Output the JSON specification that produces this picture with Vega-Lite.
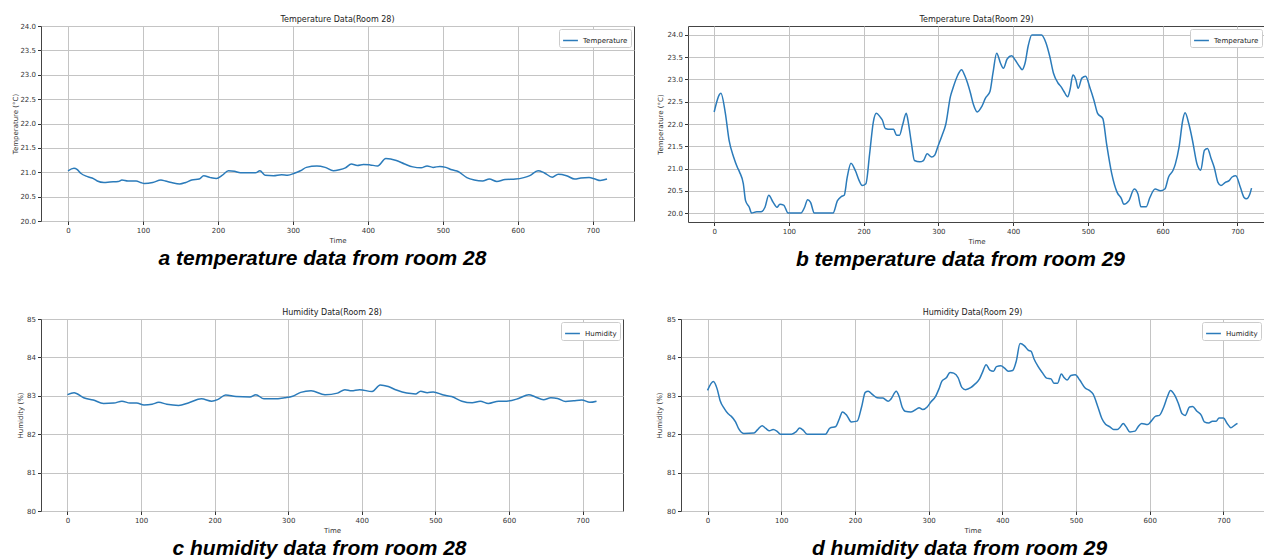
{
  "$schema": "https://vega.github.io/schema/vega-lite/v6.json",
  "padding": {"left": 10, "top": 15, "right": 0, "bottom": 0},
  "background": "white",
  "config": {
    "view": {"stroke": "#444444", "strokeWidth": 1},
    "axis": {
      "domain": false, "grid": true, "gridColor": "#c4c4c4", "gridWidth": 1,
      "tickColor": "#333333", "tickSize": 3.5, "labelPadding": 2,
      "labelFont": "DejaVu Sans", "labelFontSize": 7, "labelColor": "#333333",
      "titleFont": "DejaVu Sans", "titleFontSize": 7, "titleFontWeight": "normal", "titleColor": "#333333"
    },
    "title": {"font": "DejaVu Sans", "fontSize": 8, "fontWeight": "normal", "color": "#222222"},
    "legend": {
      "title": null, "orient": "top-right", "offset": 3, "symbolType": "stroke", "symbolStrokeWidth": 1.5,
      "symbolSize": 220, "labelFont": "DejaVu Sans", "labelFontSize": 7, "labelColor": "#222222",
      "strokeColor": "#cccccc", "fillColor": "white", "padding": 3, "cornerRadius": 2
    }
  },
  "datasets": {
    "a": [
      {"t":0,"v":21.03},{"t":8,"v":21.08},{"t":12,"v":21.06},{"t":17,"v":20.98},{"t":26,"v":20.91},{"t":34,"v":20.87},{"t":39,"v":20.82},{"t":48,"v":20.79},{"t":56,"v":20.80},{"t":67,"v":20.81},{"t":72,"v":20.84},{"t":80,"v":20.82},{"t":91,"v":20.82},{"t":97,"v":20.79},{"t":102,"v":20.77},{"t":113,"v":20.79},{"t":124,"v":20.84},{"t":130,"v":20.82},{"t":138,"v":20.79},{"t":149,"v":20.76},{"t":157,"v":20.79},{"t":165,"v":20.84},{"t":175,"v":20.86},{"t":181,"v":20.93},{"t":190,"v":20.89},{"t":198,"v":20.87},{"t":206,"v":20.94},{"t":214,"v":21.03},{"t":222,"v":21.02},{"t":230,"v":20.99},{"t":241,"v":20.99},{"t":250,"v":20.99},{"t":256,"v":21.03},{"t":263,"v":20.94},{"t":274,"v":20.93},{"t":285,"v":20.95},{"t":293,"v":20.94},{"t":302,"v":20.98},{"t":310,"v":21.03},{"t":318,"v":21.10},{"t":332,"v":21.13},{"t":343,"v":21.10},{"t":354,"v":21.03},{"t":362,"v":21.05},{"t":370,"v":21.09},{"t":378,"v":21.17},{"t":386,"v":21.14},{"t":394,"v":21.16},{"t":403,"v":21.15},{"t":413,"v":21.13},{"t":424,"v":21.28},{"t":438,"v":21.24},{"t":449,"v":21.17},{"t":460,"v":21.11},{"t":471,"v":21.09},{"t":479,"v":21.13},{"t":487,"v":21.10},{"t":496,"v":21.12},{"t":504,"v":21.10},{"t":512,"v":21.05},{"t":521,"v":21.01},{"t":532,"v":20.89},{"t":542,"v":20.84},{"t":553,"v":20.82},{"t":562,"v":20.86},{"t":572,"v":20.81},{"t":583,"v":20.85},{"t":597,"v":20.86},{"t":608,"v":20.89},{"t":616,"v":20.93},{"t":627,"v":21.03},{"t":635,"v":20.99},{"t":646,"v":20.90},{"t":654,"v":20.96},{"t":665,"v":20.93},{"t":676,"v":20.86},{"t":684,"v":20.88},{"t":695,"v":20.89},{"t":703,"v":20.86},{"t":710,"v":20.83},{"t":719,"v":20.86}
    ],
    "b": [
      {"t":0,"v":22.27},{"t":9,"v":22.69},{"t":15,"v":22.24},{"t":20,"v":21.63},{"t":26,"v":21.26},{"t":31,"v":21.03},{"t":34,"v":20.92},{"t":39,"v":20.66},{"t":42,"v":20.28},{"t":47,"v":20.13},{"t":50,"v":20.0},{"t":57,"v":20.03},{"t":63,"v":20.03},{"t":68,"v":20.13},{"t":73,"v":20.4},{"t":79,"v":20.24},{"t":84,"v":20.13},{"t":88,"v":20.2},{"t":93,"v":20.18},{"t":99,"v":20.0},{"t":116,"v":20.0},{"t":121,"v":20.13},{"t":125,"v":20.3},{"t":129,"v":20.24},{"t":134,"v":20.0},{"t":159,"v":20.0},{"t":165,"v":20.28},{"t":170,"v":20.37},{"t":174,"v":20.4},{"t":178,"v":20.8},{"t":183,"v":21.12},{"t":189,"v":20.95},{"t":194,"v":20.73},{"t":198,"v":20.62},{"t":203,"v":20.66},{"t":208,"v":21.33},{"t":213,"v":22.05},{"t":217,"v":22.24},{"t":222,"v":22.16},{"t":225,"v":22.09},{"t":229,"v":21.9},{"t":236,"v":21.88},{"t":240,"v":21.88},{"t":244,"v":21.75},{"t":248,"v":21.75},{"t":252,"v":21.97},{"t":257,"v":22.24},{"t":260,"v":22.01},{"t":264,"v":21.56},{"t":268,"v":21.18},{"t":275,"v":21.15},{"t":280,"v":21.18},{"t":285,"v":21.33},{"t":291,"v":21.26},{"t":295,"v":21.3},{"t":299,"v":21.48},{"t":305,"v":21.75},{"t":310,"v":22.0},{"t":316,"v":22.61},{"t":320,"v":22.83},{"t":326,"v":23.1},{"t":331,"v":23.22},{"t":335,"v":23.1},{"t":339,"v":22.92},{"t":343,"v":22.69},{"t":347,"v":22.43},{"t":352,"v":22.27},{"t":358,"v":22.39},{"t":363,"v":22.58},{"t":369,"v":22.73},{"t":373,"v":23.14},{"t":378,"v":23.59},{"t":383,"v":23.37},{"t":387,"v":23.25},{"t":392,"v":23.46},{"t":398,"v":23.53},{"t":403,"v":23.43},{"t":409,"v":23.28},{"t":412,"v":23.22},{"t":416,"v":23.37},{"t":420,"v":23.74},{"t":425,"v":24.0},{"t":438,"v":24.0},{"t":444,"v":23.82},{"t":449,"v":23.52},{"t":454,"v":23.14},{"t":460,"v":22.92},{"t":464,"v":22.84},{"t":468,"v":22.73},{"t":473,"v":22.61},{"t":476,"v":22.76},{"t":480,"v":23.1},{"t":484,"v":22.99},{"t":487,"v":22.8},{"t":492,"v":23.03},{"t":497,"v":23.07},{"t":503,"v":22.8},{"t":508,"v":22.54},{"t":513,"v":22.24},{"t":520,"v":22.12},{"t":525,"v":21.56},{"t":532,"v":20.88},{"t":539,"v":20.47},{"t":545,"v":20.32},{"t":548,"v":20.2},{"t":555,"v":20.28},{"t":562,"v":20.54},{"t":567,"v":20.43},{"t":571,"v":20.14},{"t":578,"v":20.14},{"t":583,"v":20.35},{"t":590,"v":20.54},{"t":597,"v":20.5},{"t":603,"v":20.54},{"t":608,"v":20.81},{"t":614,"v":20.96},{"t":617,"v":21.1},{"t":622,"v":21.48},{"t":627,"v":22.09},{"t":630,"v":22.25},{"t":635,"v":22.01},{"t":640,"v":21.63},{"t":646,"v":21.1},{"t":651,"v":20.96},{"t":656,"v":21.41},{"t":660,"v":21.45},{"t":665,"v":21.22},{"t":669,"v":21.03},{"t":674,"v":20.69},{"t":678,"v":20.62},{"t":684,"v":20.69},{"t":689,"v":20.73},{"t":693,"v":20.81},{"t":698,"v":20.84},{"t":704,"v":20.58},{"t":709,"v":20.35},{"t":712,"v":20.32},{"t":717,"v":20.44},{"t":719,"v":20.56}
    ],
    "c": [
      {"t":0,"v":83.03},{"t":9,"v":83.08},{"t":22,"v":82.95},{"t":35,"v":82.89},{"t":49,"v":82.80},{"t":63,"v":82.81},{"t":74,"v":82.86},{"t":85,"v":82.81},{"t":94,"v":82.81},{"t":104,"v":82.76},{"t":115,"v":82.78},{"t":124,"v":82.83},{"t":135,"v":82.78},{"t":151,"v":82.75},{"t":165,"v":82.82},{"t":182,"v":82.92},{"t":196,"v":82.86},{"t":204,"v":82.90},{"t":215,"v":83.02},{"t":229,"v":82.98},{"t":248,"v":82.97},{"t":256,"v":83.03},{"t":267,"v":82.92},{"t":281,"v":82.92},{"t":295,"v":82.95},{"t":306,"v":82.99},{"t":317,"v":83.09},{"t":331,"v":83.13},{"t":350,"v":83.03},{"t":367,"v":83.07},{"t":377,"v":83.16},{"t":386,"v":83.13},{"t":397,"v":83.16},{"t":414,"v":83.11},{"t":425,"v":83.28},{"t":436,"v":83.24},{"t":447,"v":83.15},{"t":461,"v":83.07},{"t":473,"v":83.05},{"t":480,"v":83.12},{"t":489,"v":83.08},{"t":497,"v":83.10},{"t":511,"v":83.02},{"t":522,"v":82.98},{"t":536,"v":82.86},{"t":550,"v":82.82},{"t":561,"v":82.86},{"t":572,"v":82.80},{"t":586,"v":82.86},{"t":597,"v":82.86},{"t":613,"v":82.93},{"t":627,"v":83.03},{"t":636,"v":82.97},{"t":647,"v":82.90},{"t":657,"v":82.95},{"t":666,"v":82.93},{"t":677,"v":82.85},{"t":688,"v":82.87},{"t":699,"v":82.89},{"t":710,"v":82.83},{"t":719,"v":82.86}
    ],
    "d": [
      {"t":0,"v":83.14},{"t":8,"v":83.37},{"t":13,"v":83.18},{"t":17,"v":82.88},{"t":23,"v":82.66},{"t":28,"v":82.53},{"t":32,"v":82.47},{"t":38,"v":82.32},{"t":42,"v":82.15},{"t":49,"v":82.02},{"t":63,"v":82.03},{"t":68,"v":82.12},{"t":74,"v":82.22},{"t":79,"v":82.15},{"t":84,"v":82.09},{"t":89,"v":82.12},{"t":94,"v":82.08},{"t":99,"v":82.0},{"t":114,"v":82.0},{"t":120,"v":82.06},{"t":125,"v":82.16},{"t":130,"v":82.1},{"t":135,"v":82.0},{"t":160,"v":82.0},{"t":166,"v":82.16},{"t":174,"v":82.2},{"t":179,"v":82.41},{"t":183,"v":82.58},{"t":189,"v":82.49},{"t":195,"v":82.32},{"t":203,"v":82.34},{"t":209,"v":82.71},{"t":214,"v":83.09},{"t":218,"v":83.12},{"t":224,"v":83.03},{"t":230,"v":82.95},{"t":238,"v":82.94},{"t":245,"v":82.86},{"t":249,"v":82.92},{"t":256,"v":83.12},{"t":260,"v":82.98},{"t":264,"v":82.71},{"t":268,"v":82.6},{"t":276,"v":82.58},{"t":284,"v":82.66},{"t":287,"v":82.69},{"t":292,"v":82.64},{"t":298,"v":82.71},{"t":303,"v":82.84},{"t":309,"v":82.97},{"t":314,"v":83.18},{"t":318,"v":83.38},{"t":324,"v":83.47},{"t":329,"v":83.61},{"t":334,"v":83.59},{"t":340,"v":83.47},{"t":345,"v":83.22},{"t":350,"v":83.16},{"t":357,"v":83.21},{"t":362,"v":83.29},{"t":369,"v":83.44},{"t":373,"v":83.61},{"t":378,"v":83.81},{"t":383,"v":83.67},{"t":388,"v":83.64},{"t":392,"v":83.76},{"t":398,"v":83.78},{"t":403,"v":83.72},{"t":408,"v":83.64},{"t":414,"v":83.66},{"t":419,"v":83.91},{"t":424,"v":84.36},{"t":430,"v":84.3},{"t":435,"v":84.19},{"t":439,"v":84.16},{"t":443,"v":83.96},{"t":448,"v":83.78},{"t":454,"v":83.61},{"t":460,"v":83.46},{"t":466,"v":83.44},{"t":470,"v":83.33},{"t":475,"v":83.33},{"t":480,"v":83.57},{"t":484,"v":83.47},{"t":488,"v":83.41},{"t":493,"v":83.53},{"t":499,"v":83.55},{"t":505,"v":83.41},{"t":512,"v":83.21},{"t":518,"v":83.14},{"t":523,"v":83.05},{"t":530,"v":82.69},{"t":535,"v":82.41},{"t":540,"v":82.26},{"t":546,"v":82.19},{"t":551,"v":82.12},{"t":556,"v":82.12},{"t":560,"v":82.19},{"t":564,"v":82.28},{"t":568,"v":82.19},{"t":573,"v":82.06},{"t":580,"v":82.08},{"t":584,"v":82.19},{"t":589,"v":82.28},{"t":597,"v":82.25},{"t":602,"v":82.34},{"t":608,"v":82.47},{"t":613,"v":82.49},{"t":619,"v":82.71},{"t":624,"v":82.98},{"t":628,"v":83.14},{"t":634,"v":83.01},{"t":639,"v":82.79},{"t":644,"v":82.53},{"t":648,"v":82.49},{"t":654,"v":82.71},{"t":658,"v":82.72},{"t":664,"v":82.6},{"t":670,"v":82.49},{"t":674,"v":82.32},{"t":680,"v":82.29},{"t":685,"v":82.34},{"t":690,"v":82.34},{"t":694,"v":82.42},{"t":700,"v":82.42},{"t":705,"v":82.28},{"t":710,"v":82.17},{"t":715,"v":82.23},{"t":719,"v":82.28}
    ]
  },
  "spacing": 38,
  "resolve": {"scale": {"color": "independent"}, "legend": {"color": "independent"}},
  "vconcat": [
    {
      "spacing": 20,
      "resolve": {"scale": {"color": "independent"}, "legend": {"color": "independent"}},
      "hconcat": [
        {
          "title": {"text": "a temperature data from room 28", "orient": "bottom", "anchor": "middle", "offset": 4, "font": "Liberation Sans", "fontSize": 21, "fontWeight": "bold", "fontStyle": "italic", "color": "#000000"},
          "resolve": {"scale": {"color": "independent"}, "legend": {"color": "independent"}},
          "vconcat": [
            {
              "width": 593, "height": 195,
              "title": {"text": "Temperature Data(Room 28)", "frame": "group", "offset": -2},
              "data": {"name": "a"},
              "mark": {"type": "line", "strokeWidth": 1.5, "interpolate": "monotone"},
              "encoding": {
                "x": {"field": "t", "type": "quantitative", "scale": {"domain": [-36, 755], "nice": false, "zero": false}, "axis": {"title": "Time", "values": [0, 100, 200, 300, 400, 500, 600, 700], "minExtent": 13, "maxExtent": 13, "titlePadding": 2}},
                "y": {"field": "v", "type": "quantitative", "scale": {"domain": [20, 24], "nice": false, "zero": false}, "axis": {"title": "Temperature (°C)", "values": [20, 20.5, 21, 21.5, 22, 22.5, 23, 23.5, 24], "format": ".1f", "minExtent": 20, "maxExtent": 20, "titlePadding": 3}},
                "color": {"datum": "Temperature", "type": "nominal", "scale": {"range": ["#2b7bba"]}}
              }
            }
          ]
        },
        {
          "title": {"text": "b temperature data from room 29", "orient": "bottom", "anchor": "middle", "offset": 4, "font": "Liberation Sans", "fontSize": 21, "fontWeight": "bold", "fontStyle": "italic", "color": "#000000"},
          "resolve": {"scale": {"color": "independent"}, "legend": {"color": "independent"}},
          "vconcat": [
            {
              "width": 577, "height": 196,
              "title": {"text": "Temperature Data(Room 29)", "frame": "group", "offset": 2},
              "data": {"name": "b"},
              "mark": {"type": "line", "strokeWidth": 1.5, "interpolate": "monotone"},
              "encoding": {
                "x": {"field": "t", "type": "quantitative", "scale": {"domain": [-35, 737], "nice": false, "zero": false}, "axis": {"title": "Time", "values": [0, 100, 200, 300, 400, 500, 600, 700], "minExtent": 13, "maxExtent": 13, "titlePadding": 2}},
                "y": {"field": "v", "type": "quantitative", "scale": {"domain": [19.8, 24.2], "nice": false, "zero": false}, "axis": {"title": "Temperature (°C)", "values": [20, 20.5, 21, 21.5, 22, 22.5, 23, 23.5, 24], "format": ".1f", "minExtent": 22, "maxExtent": 22, "titlePadding": 3}},
                "color": {"datum": "Temperature", "type": "nominal", "scale": {"range": ["#2b7bba"]}}
              }
            }
          ]
        }
      ]
    },
    {
      "spacing": 30,
      "resolve": {"scale": {"color": "independent"}, "legend": {"color": "independent"}},
      "hconcat": [
        {
          "title": {"text": "c humidity data from room 28", "orient": "bottom", "anchor": "middle", "offset": 4, "font": "Liberation Sans", "fontSize": 21, "fontWeight": "bold", "fontStyle": "italic", "color": "#000000"},
          "resolve": {"scale": {"color": "independent"}, "legend": {"color": "independent"}},
          "vconcat": [
            {
              "width": 582, "height": 192,
              "title": {"text": "Humidity Data(Room 28)", "frame": "group", "offset": -2},
              "data": {"name": "c"},
              "mark": {"type": "line", "strokeWidth": 1.5, "interpolate": "monotone"},
              "encoding": {
                "x": {"field": "t", "type": "quantitative", "scale": {"domain": [-36, 755], "nice": false, "zero": false}, "axis": {"title": "Time", "values": [0, 100, 200, 300, 400, 500, 600, 700], "minExtent": 13, "maxExtent": 13, "titlePadding": 2}},
                "y": {"field": "v", "type": "quantitative", "scale": {"domain": [80, 85], "nice": false, "zero": false}, "axis": {"title": "Humidity (%)", "values": [80, 81, 82, 83, 84, 85], "format": "d", "minExtent": 15, "maxExtent": 15, "titlePadding": 3}},
                "color": {"datum": "Humidity", "type": "nominal", "scale": {"range": ["#2b7bba"]}}
              }
            }
          ]
        },
        {
          "title": {"text": "d humidity data from room 29", "orient": "bottom", "anchor": "middle", "offset": 4, "font": "Liberation Sans", "fontSize": 21, "fontWeight": "bold", "fontStyle": "italic", "color": "#000000"},
          "resolve": {"scale": {"color": "independent"}, "legend": {"color": "independent"}},
          "vconcat": [
            {
              "width": 583, "height": 192,
              "title": {"text": "Humidity Data(Room 29)", "frame": "group", "offset": -2},
              "data": {"name": "d"},
              "mark": {"type": "line", "strokeWidth": 1.5, "interpolate": "monotone"},
              "encoding": {
                "x": {"field": "t", "type": "quantitative", "scale": {"domain": [-36, 755], "nice": false, "zero": false}, "axis": {"title": "Time", "values": [0, 100, 200, 300, 400, 500, 600, 700], "minExtent": 13, "maxExtent": 13, "titlePadding": 2}},
                "y": {"field": "v", "type": "quantitative", "scale": {"domain": [80, 85], "nice": false, "zero": false}, "axis": {"title": "Humidity (%)", "values": [80, 81, 82, 83, 84, 85], "format": "d", "minExtent": 16, "maxExtent": 16, "titlePadding": 3}},
                "color": {"datum": "Humidity", "type": "nominal", "scale": {"range": ["#2b7bba"]}}
              }
            }
          ]
        }
      ]
    }
  ]
}
